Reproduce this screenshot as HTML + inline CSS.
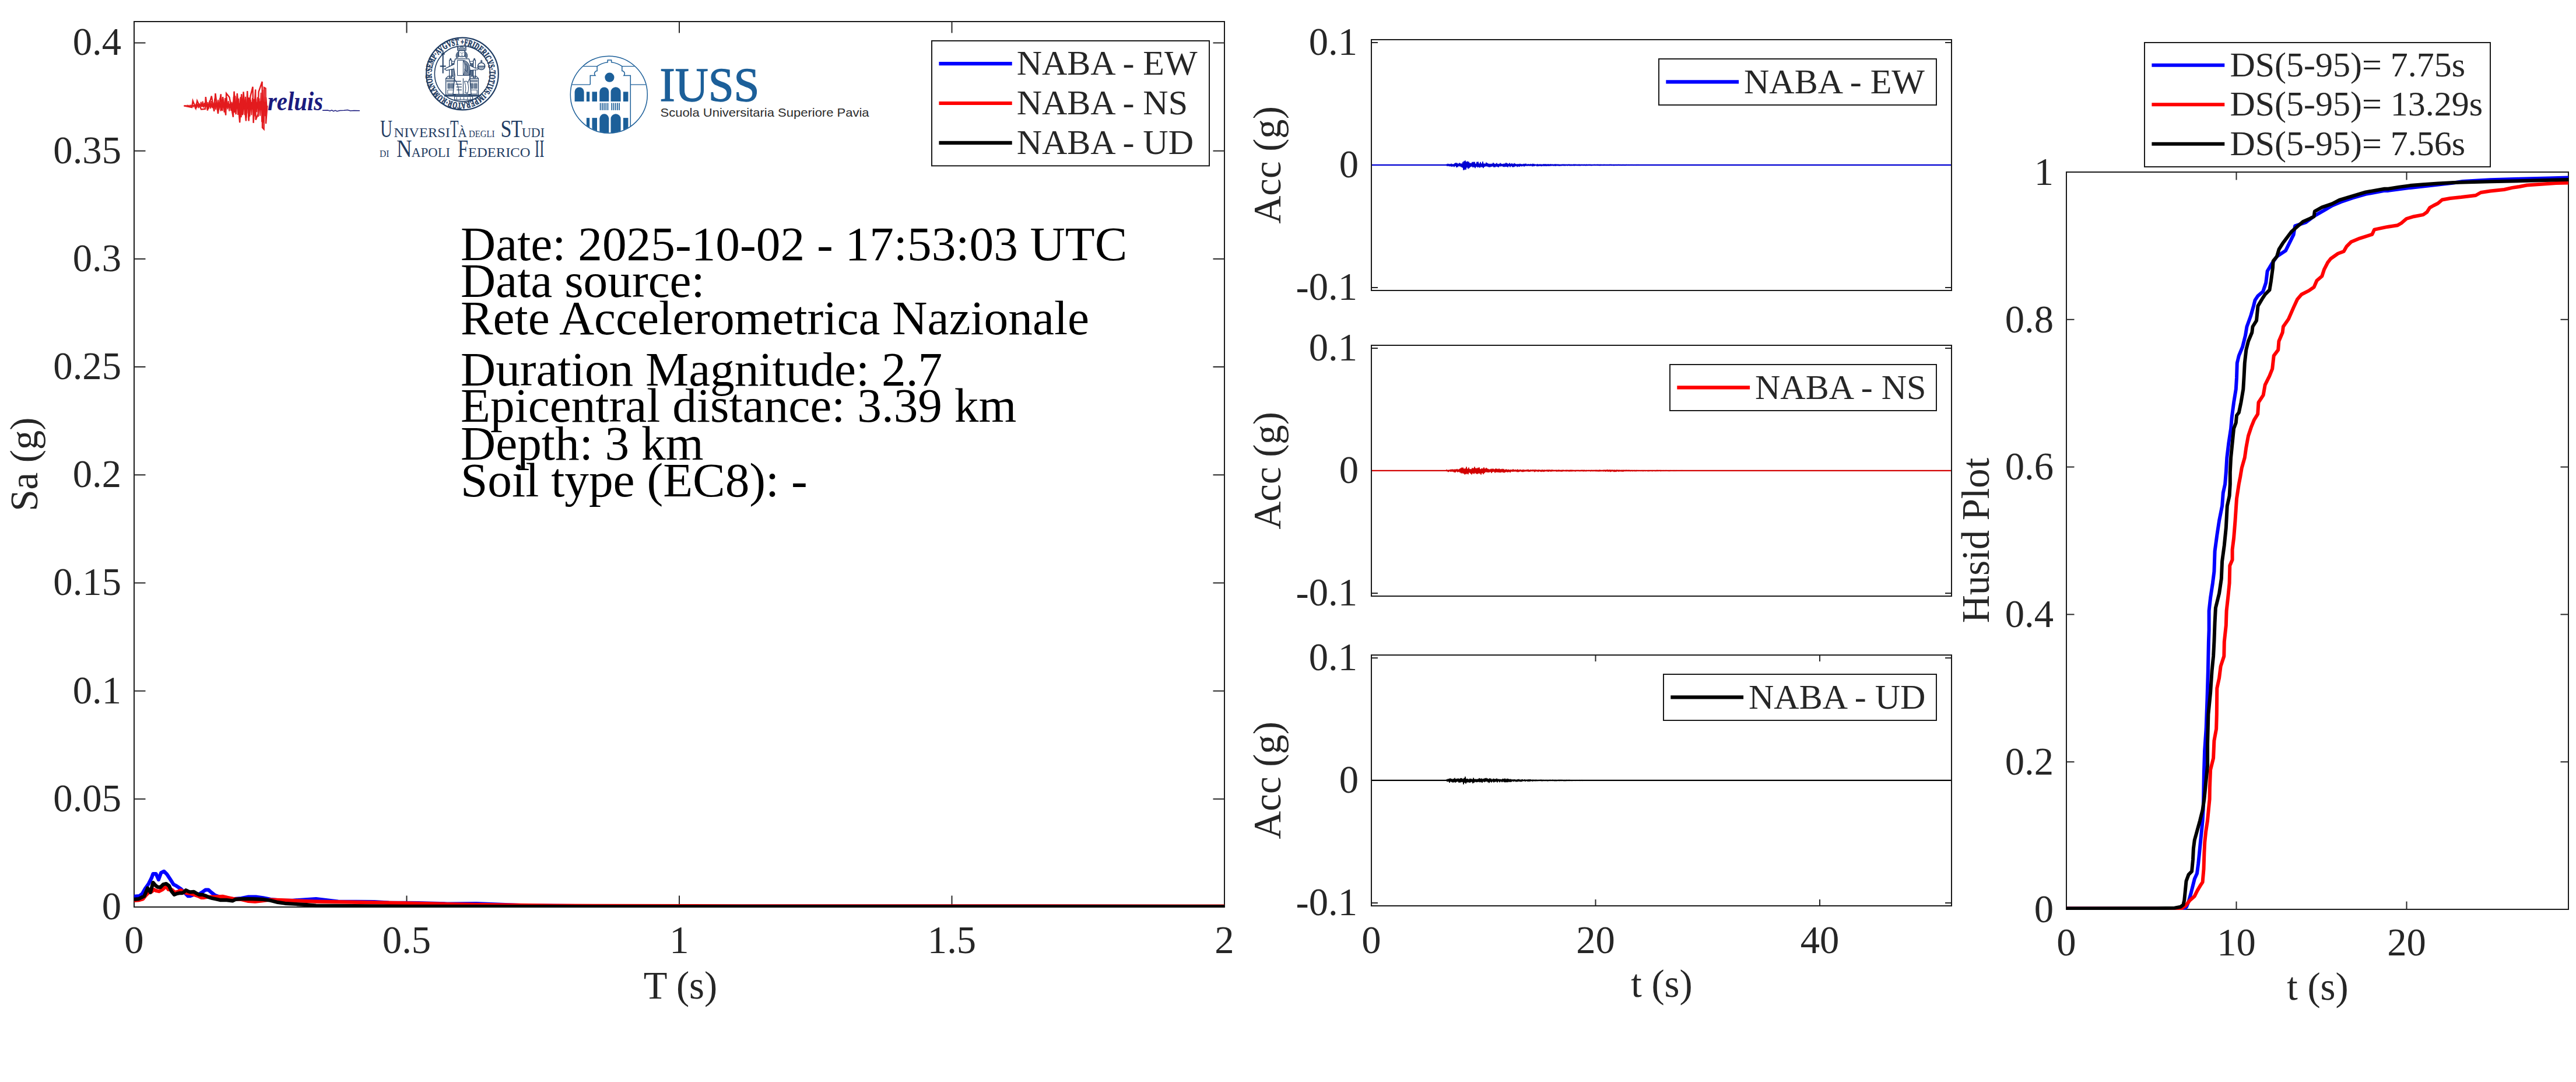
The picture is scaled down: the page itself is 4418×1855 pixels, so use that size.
<!DOCTYPE html>
<html lang="en"><head><meta charset="utf-8"><title>NABA station - response spectra, accelerograms, Husid plot</title>
<style>
html,body{margin:0;padding:0;background:#fff}
body{width:4418px;height:1855px;overflow:hidden}
svg{display:block;font-family:"Liberation Serif","Times New Roman",serif}
.sans{font-family:"Liberation Sans",Arial,sans-serif}
</style></head><body>
<svg width="4418" height="1855" viewBox="0 0 4418 1855">
<rect x="0" y="0" width="4418" height="1855" fill="#fff"/>
<rect x="230" y="37" width="1870" height="1518" fill="none" stroke="#1a1a1a" stroke-width="2"/>
<line x1="230" y1="1369.8" x2="249.5" y2="1369.8" stroke="#262626" stroke-width="2" />
<line x1="2080.5" y1="1369.8" x2="2100" y2="1369.8" stroke="#262626" stroke-width="2" />
<line x1="230" y1="1184.6" x2="249.5" y2="1184.6" stroke="#262626" stroke-width="2" />
<line x1="2080.5" y1="1184.6" x2="2100" y2="1184.6" stroke="#262626" stroke-width="2" />
<line x1="230" y1="999.4" x2="249.5" y2="999.4" stroke="#262626" stroke-width="2" />
<line x1="2080.5" y1="999.4" x2="2100" y2="999.4" stroke="#262626" stroke-width="2" />
<line x1="230" y1="814.2" x2="249.5" y2="814.2" stroke="#262626" stroke-width="2" />
<line x1="2080.5" y1="814.2" x2="2100" y2="814.2" stroke="#262626" stroke-width="2" />
<line x1="230" y1="629.0" x2="249.5" y2="629.0" stroke="#262626" stroke-width="2" />
<line x1="2080.5" y1="629.0" x2="2100" y2="629.0" stroke="#262626" stroke-width="2" />
<line x1="230" y1="443.9" x2="249.5" y2="443.9" stroke="#262626" stroke-width="2" />
<line x1="2080.5" y1="443.9" x2="2100" y2="443.9" stroke="#262626" stroke-width="2" />
<line x1="230" y1="258.7" x2="249.5" y2="258.7" stroke="#262626" stroke-width="2" />
<line x1="2080.5" y1="258.7" x2="2100" y2="258.7" stroke="#262626" stroke-width="2" />
<line x1="230" y1="73.5" x2="249.5" y2="73.5" stroke="#262626" stroke-width="2" />
<line x1="2080.5" y1="73.5" x2="2100" y2="73.5" stroke="#262626" stroke-width="2" />
<line x1="697.5" y1="1555" x2="697.5" y2="1535.5" stroke="#262626" stroke-width="2" />
<line x1="697.5" y1="37" x2="697.5" y2="56.5" stroke="#262626" stroke-width="2" />
<line x1="1165.0" y1="1555" x2="1165.0" y2="1535.5" stroke="#262626" stroke-width="2" />
<line x1="1165.0" y1="37" x2="1165.0" y2="56.5" stroke="#262626" stroke-width="2" />
<line x1="1632.5" y1="1555" x2="1632.5" y2="1535.5" stroke="#262626" stroke-width="2" />
<line x1="1632.5" y1="37" x2="1632.5" y2="56.5" stroke="#262626" stroke-width="2" />
<clipPath id="cl"><rect x="230" y="37" width="1870" height="1519"/></clipPath>
<g clip-path="url(#cl)" fill="none" stroke-linejoin="round" stroke-linecap="butt">
<polyline points="230.0,1536.9 238.8,1536.2 243.8,1532.5 248.8,1523.8 255.0,1515.0 260.0,1505.0 262.5,1498.1 267.5,1498.1 271.9,1508.1 276.2,1496.2 281.2,1493.8 286.2,1498.8 291.2,1506.2 297.5,1516.2 302.5,1518.8 310.0,1523.8 317.5,1531.2 322.5,1536.2 326.2,1536.2 332.5,1533.8 340.0,1533.8 346.2,1530.0 352.5,1525.6 357.5,1525.6 362.5,1530.0 368.8,1535.0 376.2,1537.5 388.8,1540.0 401.2,1541.2 413.8,1540.0 426.2,1537.5 438.8,1537.5 451.2,1539.4 463.8,1541.9 482.5,1543.8 501.2,1543.8 520.0,1542.5 542.0,1541.2 580.0,1545.5 642.0,1546.0 667.0,1547.5 717.0,1548.0 767.0,1549.5 817.0,1549.0 867.0,1551.2 900.0,1552.4 1100.0,1553.8 2100.0,1554.0" stroke="#0000ff" stroke-width="6.2"/>
<polyline points="230.0,1543.8 238.8,1543.1 245.0,1541.2 250.0,1535.0 255.0,1530.0 260.0,1528.8 263.8,1525.0 267.5,1526.9 272.5,1528.1 278.8,1525.0 285.0,1519.4 288.8,1525.0 295.0,1525.6 300.0,1530.0 305.0,1528.8 310.0,1526.2 315.0,1528.8 320.0,1531.2 326.2,1531.9 332.5,1533.8 340.0,1536.2 345.0,1538.8 350.0,1538.8 357.5,1537.5 370.0,1537.5 382.5,1536.9 390.0,1538.8 401.2,1541.2 413.8,1541.9 426.2,1545.0 437.5,1545.6 448.8,1544.4 463.8,1542.5 482.5,1543.1 507.5,1544.4 526.2,1545.0 542.0,1545.6 617.0,1546.8 697.0,1548.3 767.0,1550.0 867.0,1551.6 950.0,1552.6 1186.0,1553.2 2100.0,1553.5" stroke="#ff0000" stroke-width="6.2"/>
<polyline points="230.0,1541.9 237.5,1541.2 242.5,1538.8 247.5,1536.2 251.2,1527.5 253.1,1522.5 255.6,1526.2 258.1,1530.0 260.0,1522.5 262.5,1513.1 266.2,1517.5 270.0,1520.6 275.0,1521.2 280.0,1516.2 285.0,1515.0 290.0,1518.8 293.8,1527.5 298.8,1533.8 303.8,1531.9 307.5,1531.2 312.5,1531.2 316.2,1528.8 318.8,1526.2 322.5,1528.1 326.2,1529.4 332.5,1528.8 336.2,1531.2 341.2,1533.8 347.5,1533.8 352.5,1535.6 357.5,1538.1 363.8,1540.0 370.0,1541.2 377.5,1543.1 388.8,1543.1 398.8,1544.4 403.8,1541.9 413.8,1541.2 432.5,1541.2 451.2,1541.9 463.8,1543.8 476.2,1546.9 488.8,1548.8 507.5,1550.0 526.2,1551.2 542.0,1552.5 700.0,1553.8 1000.0,1554.3 2100.0,1554.3" stroke="#000000" stroke-width="6.2"/>
</g>
<text x="208" y="1575.9" font-size="66.67" text-anchor="end" fill="#262626" >0</text>
<text x="208" y="1390.7" font-size="66.67" text-anchor="end" fill="#262626" >0.05</text>
<text x="208" y="1205.5" font-size="66.67" text-anchor="end" fill="#262626" >0.1</text>
<text x="208" y="1020.3" font-size="66.67" text-anchor="end" fill="#262626" >0.15</text>
<text x="208" y="835.1" font-size="66.67" text-anchor="end" fill="#262626" >0.2</text>
<text x="208" y="649.9" font-size="66.67" text-anchor="end" fill="#262626" >0.25</text>
<text x="208" y="464.8" font-size="66.67" text-anchor="end" fill="#262626" >0.3</text>
<text x="208" y="279.6" font-size="66.67" text-anchor="end" fill="#262626" >0.35</text>
<text x="208" y="94.4" font-size="66.67" text-anchor="end" fill="#262626" >0.4</text>
<text x="230.0" y="1634" font-size="66.67" text-anchor="middle" fill="#262626" >0</text>
<text x="697.5" y="1634" font-size="66.67" text-anchor="middle" fill="#262626" >0.5</text>
<text x="1165.0" y="1634" font-size="66.67" text-anchor="middle" fill="#262626" >1</text>
<text x="1632.5" y="1634" font-size="66.67" text-anchor="middle" fill="#262626" >1.5</text>
<text x="2100.0" y="1634" font-size="66.67" text-anchor="middle" fill="#262626" >2</text>
<text x="1167" y="1711.5" font-size="66.67" text-anchor="middle" fill="#262626" >T (s)</text>
<text transform="translate(64,796) rotate(-90)" font-size="66.67" text-anchor="middle" fill="#262626">Sa (g)</text>
<rect x="1598" y="70" width="476" height="214.3" fill="#fff" stroke="#1a1a1a" stroke-width="2"/>
<line x1="1610.4" y1="109.2" x2="1735.7" y2="109.2" stroke="#0000ff" stroke-width="6.2" />
<text x="1743.7" y="128" font-size="60" text-anchor="start" fill="#262626" >NABA - EW</text>
<line x1="1610.4" y1="177" x2="1735.7" y2="177" stroke="#ff0000" stroke-width="6.2" />
<text x="1743.7" y="195.8" font-size="60" text-anchor="start" fill="#262626" >NABA - NS</text>
<line x1="1610.4" y1="244.8" x2="1735.7" y2="244.8" stroke="#000000" stroke-width="6.2" />
<text x="1743.7" y="263.6" font-size="60" text-anchor="start" fill="#262626" >NABA - UD</text>
<text x="790" y="445.8" font-size="83.33" text-anchor="start" fill="#000" >Date: 2025-10-02 - 17:53:03 UTC</text>
<text x="790" y="509.1" font-size="83.33" text-anchor="start" fill="#000" >Data source:</text>
<text x="790" y="572.5" font-size="83.33" text-anchor="start" fill="#000" >Rete Accelerometrica Nazionale</text>
<text x="790" y="660.7" font-size="83.33" text-anchor="start" fill="#000" >Duration Magnitude: 2.7</text>
<text x="790" y="723" font-size="83.33" text-anchor="start" fill="#000" >Epicentral distance: 3.39 km</text>
<text x="790" y="787.5" font-size="83.33" text-anchor="start" fill="#000" >Depth: 3 km</text>
<text x="790" y="851.2" font-size="83.33" text-anchor="start" fill="#000" >Soil type (EC8): -</text>
<g id="logo-reluis">
<polygon points="315.4,181.4 318.0,181.3 320.7,181.1 323.4,181.0 326.0,180.9 328.7,180.8 331.4,180.6 334.1,180.5 336.7,180.4 339.4,180.3 342.1,180.0 344.7,179.5 347.4,179.1 350.1,178.7 352.8,178.3 355.4,178.2 358.1,178.2 360.8,178.3 363.4,178.2 366.1,177.7 368.8,177.1 371.4,177.1 374.1,177.2 376.8,177.3 379.5,177.4 382.1,177.3 384.8,177.2 387.5,177.0 390.1,177.5 392.8,178.3 395.5,177.9 398.2,177.1 400.8,176.3 403.5,176.3 406.2,176.6 408.8,176.8 411.5,176.9 414.2,176.7 416.9,176.5 419.5,176.2 422.2,176.0 424.9,175.7 427.5,175.3 430.2,174.9 432.9,174.5 435.6,174.6 438.2,174.9 440.9,175.2 443.6,174.5 446.2,173.5 448.9,172.5 451.6,173.8 454.2,174.3 456.9,176.9 456.9,185.9 454.2,189.0 451.6,190.2 448.9,189.5 446.2,188.3 443.6,187.1 440.9,186.4 438.2,186.9 435.6,187.5 432.9,187.8 430.2,187.7 427.5,187.5 424.9,187.3 422.2,187.0 419.5,186.6 416.9,186.4 414.2,186.9 411.5,187.4 408.8,187.1 406.2,186.5 403.5,186.0 400.8,185.4 398.2,185.0 395.5,184.6 392.8,184.4 390.1,184.7 387.5,184.9 384.8,184.8 382.1,184.6 379.5,184.5 376.8,184.4 374.1,184.3 371.4,184.1 368.8,184.0 366.1,183.8 363.4,183.6 360.8,183.4 358.1,183.2 355.4,183.0 352.8,182.9 350.1,182.8 347.4,182.7 344.7,182.6 342.1,182.6 339.4,182.5 336.7,182.4 334.1,182.3 331.4,182.2 328.7,182.0 326.0,181.9 323.4,181.8 320.7,181.7 318.0,181.5 315.4,181.4" fill="#e31b1e"/>
<polyline points="315.4,181.4 316.8,181.5 318.3,181.0 319.8,181.8 321.2,180.6 322.7,182.2 324.2,180.7 325.6,182.7 327.1,180.5 328.6,183.0 330.0,180.2 331.5,182.8 333.0,179.4 334.5,184.3 335.9,179.7 337.4,183.5 338.9,178.3 340.3,185.4 341.8,177.5 343.3,184.3 344.7,174.7 346.2,183.6 347.7,173.6 349.1,184.4 350.6,176.1 352.1,184.0 353.6,174.2 355.0,186.6 356.5,175.2 358.0,186.5 359.4,172.3 360.9,186.2 362.4,173.0 363.8,185.3 365.3,175.3 366.8,186.4 368.2,169.0 369.7,188.0 371.2,171.7 372.6,189.2 374.1,170.9 375.6,187.9 377.1,168.4 378.5,190.7 380.0,173.0 381.5,190.3 382.9,170.3 384.4,192.7 385.9,168.1 387.3,189.0 388.8,166.2 390.3,187.4 391.7,173.0 393.2,190.7 394.7,175.1 396.2,190.0 397.6,174.5 399.1,192.5 400.6,165.6 402.0,193.1 403.5,164.2 405.0,192.3 406.4,166.9 407.9,196.9 409.4,168.8 410.8,197.0 412.3,166.4 413.8,201.1 415.3,169.1 416.7,196.2 418.2,172.7 419.7,197.1 421.1,165.9 422.6,201.8 424.1,163.2 425.5,194.4 427.0,167.1 428.5,199.6 429.9,170.8 431.4,197.4 432.9,168.0 434.3,192.9 435.8,169.8 437.3,199.5 438.8,169.4 440.2,192.1 441.7,166.5 443.2,200.1 444.6,168.6 446.1,198.6 447.6,158.7 449.0,209.1 450.5,153.9 452.0,210.4 453.4,165.7 454.9,199.3 456.4,166.7 457.9,186.0 458.3,181.4" fill="none" stroke="#e31b1e" stroke-width="1.8" stroke-linejoin="miter"/>
<polyline points="315.4,181.4 329.1,184.1 330.7,172.8 335.8,185.4 338.1,172.8 345.1,187.4 351.8,186.8 352.8,166.1 355.8,189.4 362.8,164.7 367.2,190.8 369.4,160.1 373.9,194.8 378.8,161.4 379.9,189.4 382.1,166.1 387.2,197.5 388.1,160.1 393.5,166.7 399.9,200.8 401.5,156.7 404.6,196.1 406.8,160.1 411.2,210.1 414.2,161.4 415.9,197.5 417.5,157.4 421.9,207.5 424.2,156.1 426.6,207.5 429.5,164.7 433.5,148.7 434.6,210.8 438.2,153.4 438.6,205.5 442.6,195.5 443.6,157.4 449.6,140.0 450.0,218.8 452.6,221.5 452.9,150.0 455.6,151.4 456.0,212.1 458.3,181.4" fill="none" stroke="#e31b1e" stroke-width="2.4" stroke-linejoin="miter"/>
<text x="459" y="188.8" font-size="46" font-weight="bold" font-style="italic" fill="#1b1b7e" textLength="95" lengthAdjust="spacingAndGlyphs">reluis</text>
<path d="M553,189.3 L562,189 L566,190.2 L569,188.8 L572,190.6 L575,189.4 L578,190.8 L583,189.6 L590,189.2 L596,188.6 L601,190 L607,189.6 L617,189.8" fill="none" stroke="#1b1b7e" stroke-width="1.5"/>
</g>
<g id="logo-unina">
<circle cx="793" cy="126.5" r="61.8" fill="none" stroke="#1f3c63" stroke-width="2.2"/>
<circle cx="793" cy="126.5" r="47.6" fill="none" stroke="#1f3c63" stroke-width="1.6"/>
<path id="ringp" d="M789.8,76.9 A49.6,49.6 0 1 1 789.7,76.9" fill="none"/>
<text font-size="15.6" font-weight="bold" fill="#1f3c63" stroke="#1f3c63" stroke-width="0.7"><textPath href="#ringp" textLength="308.6" lengthAdjust="spacingAndGlyphs">+FRIDERICVS·TOTIVS·IMPERATOR·ROMANOR·SEMP·AVGVST</textPath></text>
<path d="M770.8,102.8 L774.6,102.8 L774.6,133.1 L770.8,133.1 Z" fill="none" fill-opacity="1" stroke="#1f3c63" stroke-width="1.2" stroke-linejoin="round"/>
<path d="M811.7,102.8 L815.5,102.8 L815.5,133.1 L811.7,133.1 Z" fill="none" fill-opacity="1" stroke="#1f3c63" stroke-width="1.2" stroke-linejoin="round"/>
<path d="M774.6,105.2 L811.7,105.2 L811.7,108.9 L774.6,108.9 Z" fill="none" fill-opacity="1" stroke="#1f3c63" stroke-width="1.0" stroke-linejoin="round"/>
<path d="M775.2,109.6 L779.5,109.6 L779.5,129.4 L775.2,129.4 Z" fill="#1f3c63" fill-opacity="0.55" stroke="#1f3c63" stroke-width="0.6" stroke-linejoin="round"/>
<path d="M806.2,109.6 L811.1,109.6 L811.1,129.4 L806.2,129.4 Z" fill="#1f3c63" fill-opacity="0.75" stroke="#1f3c63" stroke-width="0.6" stroke-linejoin="round"/>
<path d="M772.7,102.8 L772.7,99.7 M813.6,102.8 L813.6,99.7" fill="none" fill-opacity="1" stroke="#1f3c63" stroke-width="2.2" stroke-linejoin="round"/>
<path d="M764.7,134.3 L780.8,134.3 L780.8,162.9 L764.7,162.9 Z" fill="none" fill-opacity="1" stroke="#1f3c63" stroke-width="1.3" stroke-linejoin="round"/>
<path d="M804.3,134.3 L820.4,134.3 L820.4,162.9 L804.3,162.9 Z" fill="none" fill-opacity="1" stroke="#1f3c63" stroke-width="1.3" stroke-linejoin="round"/>
<path d="M766.5,136.8 L778.9,136.8 L778.9,140.5 L766.5,140.5 Z" fill="#1f3c63" fill-opacity="0.5" stroke="#1f3c63" stroke-width="0.5" stroke-linejoin="round"/>
<path d="M806.2,136.8 L818.6,136.8 L818.6,140.5 L806.2,140.5 Z" fill="#1f3c63" fill-opacity="0.5" stroke="#1f3c63" stroke-width="0.5" stroke-linejoin="round"/>
<path d="M767.8,143.0 L772.7,143.0 L772.7,151.7 L767.8,151.7 Z" fill="#1f3c63" fill-opacity="0.65" stroke="#1f3c63" stroke-width="0.5" stroke-linejoin="round"/>
<path d="M773.9,143.0 L778.3,143.0 L778.3,151.7 L773.9,151.7 Z" fill="#1f3c63" fill-opacity="0.65" stroke="#1f3c63" stroke-width="0.5" stroke-linejoin="round"/>
<path d="M806.8,143.0 L811.7,143.0 L811.7,151.7 L806.8,151.7 Z" fill="#1f3c63" fill-opacity="0.65" stroke="#1f3c63" stroke-width="0.5" stroke-linejoin="round"/>
<path d="M813.2,143.0 L818.2,143.0 L818.2,151.7 L813.2,151.7 Z" fill="#1f3c63" fill-opacity="0.65" stroke="#1f3c63" stroke-width="0.5" stroke-linejoin="round"/>
<path d="M767.8,154.2 L778.3,154.2 L778.3,161.0 L767.8,161.0 Z" fill="none" fill-opacity="1" stroke="#1f3c63" stroke-width="0.9" stroke-linejoin="round"/>
<path d="M806.8,154.2 L818.2,154.2 L818.2,161.0 L806.8,161.0 Z" fill="none" fill-opacity="1" stroke="#1f3c63" stroke-width="0.9" stroke-linejoin="round"/>
<path d="M764.7,134.3 L768.4,130.6 L777.0,130.6 L780.8,134.3 M804.3,134.3 L808.0,130.6 L816.7,130.6 L820.4,134.3" fill="none" fill-opacity="1" stroke="#1f3c63" stroke-width="1.1" stroke-linejoin="round"/>
<path d="M762.2,162.9 L822.9,162.9 L822.9,165.3 L762.2,165.3 Z" fill="#1f3c63" fill-opacity="0.8" stroke="#1f3c63" stroke-width="0.6" stroke-linejoin="round"/>
<path d="M780.8,100.9 L804.3,100.9 L807.4,112.0 L805.5,129.4 L808.0,161.6 L777.0,161.6 L780.1,129.4 L777.7,112.0 Z" fill="#fff" fill-opacity="1" stroke="#1f3c63" stroke-width="1.3" stroke-linejoin="round"/>
<path d="M784.5,103.4 L794.4,103.4 L794.4,129.4 L784.5,129.4 Z" fill="none" fill-opacity="1" stroke="#1f3c63" stroke-width="1.0" stroke-linejoin="round"/>
<path d="M795.0,103.4 C805.5,104.6 808.0,118.2 804.3,129.4 L795.0,129.4 C798.1,119.5 798.1,112.0 795.0,103.4 Z" fill="#1f3c63" fill-opacity="0.6" stroke="#1f3c63" stroke-width="0.9" stroke-linejoin="round"/>
<path d="M798.1,109.6 C801.8,110.8 803.1,115.8 801.2,122.0 M796.3,118.2 L802.4,124.4" fill="none" fill-opacity="1" stroke="#1f3c63" stroke-width="1.0" stroke-linejoin="round"/>
<path d="M778.3,134.3 C783.2,139.3 787.0,146.7 787.0,161.6 M794.4,134.3 L794.4,161.6 M805.5,134.3 C801.8,141.8 799.3,151.7 801.2,161.6" fill="none" fill-opacity="1" stroke="#1f3c63" stroke-width="1.1" stroke-linejoin="round"/>
<path d="M780.1,139.3 L790.7,139.3 M781.4,144.3 L791.9,144.3 M782.6,149.2 L791.9,149.2 M783.2,154.2 L791.9,154.2" fill="none" fill-opacity="1" stroke="#1f3c63" stroke-width="1.3" stroke-linejoin="round"/>
<path d="M796.3,139.3 C799.3,146.7 799.3,154.2 797.5,159.1 L802.4,159.1 C804.3,151.7 803.7,145.5 801.2,139.3 Z" fill="#fff" fill-opacity="1" stroke="#1f3c63" stroke-width="1.0" stroke-linejoin="round"/>
<path d="M779.5,165.3 L810.5,165.3 L810.5,170.9 L779.5,170.9 Z" fill="none" fill-opacity="1" stroke="#1f3c63" stroke-width="1.0" stroke-linejoin="round"/>
<path d="M783.2,170.9 L783.2,166.6 M789.4,170.9 L789.4,166.6 M795.6,170.9 L795.6,166.6 M801.8,170.9 L801.8,166.6 M806.8,170.9 L806.8,166.6" fill="none" fill-opacity="1" stroke="#1f3c63" stroke-width="0.9" stroke-linejoin="round"/>
<path d="M787.0,86.6 L796.9,86.6 L797.5,94.7 C795.6,98.4 788.2,98.4 786.3,94.7 Z" fill="#fff" fill-opacity="1" stroke="#1f3c63" stroke-width="1.2" stroke-linejoin="round"/>
<path d="M786.6,87.9 C781.4,91.0 781.4,97.2 783.2,99.7 L787.0,97.2 Z M797.2,87.9 C802.4,91.0 802.4,97.2 800.6,99.7 L796.9,97.2 Z" fill="#1f3c63" fill-opacity="0.7" stroke="#1f3c63" stroke-width="0.8" stroke-linejoin="round"/>
<path d="M784.5,86.6 L784.5,79.8 L787.6,82.9 L791.9,78.6 L796.3,82.9 L799.3,79.8 L799.3,86.6 Z" fill="#1f3c63" fill-opacity="0.55" stroke="#1f3c63" stroke-width="0.9" stroke-linejoin="round"/>
<path d="M789.4,90.4 L791.3,90.4 M793.2,90.4 L795.0,90.4 M792.2,91.0 L792.2,93.7 M790.4,95.7 L793.9,95.7" fill="none" fill-opacity="1" stroke="#1f3c63" stroke-width="0.9" stroke-linejoin="round"/>
<path d="M779.5,109.6 L765.9,116.4 L762.2,118.2 L765.9,120.7 L778.3,118.2" fill="#fff" fill-opacity="1" stroke="#1f3c63" stroke-width="1.2" stroke-linejoin="round"/>
<path d="M759.7,89.1 L759.7,125.7" fill="none" fill-opacity="1" stroke="#1f3c63" stroke-width="2.0" stroke-linejoin="round"/>
<path d="M754.7,113.5 L764.7,113.5 M756.6,92.5 L762.8,92.5 M759.7,89.1 L759.7,86.6" fill="none" fill-opacity="1" stroke="#1f3c63" stroke-width="1.8" stroke-linejoin="round"/>
<path d="M805.5,112.0 L815.5,117.0 L820.4,116.4 L819.8,119.5 L806.8,120.7" fill="#fff" fill-opacity="1" stroke="#1f3c63" stroke-width="1.2" stroke-linejoin="round"/>
<circle cx="825.6" cy="113.5" r="6.1" fill="#fff" stroke="#1f3c63" stroke-width="1.5"/>
<path d="M819.8,113.5 L831.6,113.5 M825.6,107.7 L825.6,102.8 M823.5,104.9 L827.7,104.9" fill="none" fill-opacity="1" stroke="#1f3c63" stroke-width="1.3" stroke-linejoin="round"/>
<path d="M820.4,114.5 C822.9,118.2 828.5,118.2 830.9,114.5" fill="#1f3c63" fill-opacity="0.45" stroke="#1f3c63" stroke-width="0.6" stroke-linejoin="round"/>
<text y="234.5" fill="#1f3c63"><tspan x="652" font-size="43" textLength="21" lengthAdjust="spacingAndGlyphs">U</tspan><tspan x="675.5" font-size="23.5" textLength="96.5" lengthAdjust="spacingAndGlyphs">NIVERSI</tspan><tspan x="772" font-size="43" textLength="14.5" lengthAdjust="spacingAndGlyphs">T</tspan><tspan x="785.2" font-size="23.5" textLength="15.5" lengthAdjust="spacingAndGlyphs">À</tspan><tspan font-size="4"> </tspan><tspan x="804" font-size="17.5" textLength="44.5" lengthAdjust="spacingAndGlyphs">DEGLI</tspan><tspan font-size="4"> </tspan><tspan x="858.5" font-size="43" textLength="19" lengthAdjust="spacingAndGlyphs">S</tspan><tspan x="876.5" font-size="43" textLength="19.5" lengthAdjust="spacingAndGlyphs">T</tspan><tspan x="895" font-size="23.5" textLength="39" lengthAdjust="spacingAndGlyphs">UDI</tspan></text>
<text y="268.5" fill="#1f3c63"><tspan x="651" font-size="17.5" textLength="16.5" lengthAdjust="spacingAndGlyphs">DI</tspan><tspan font-size="4"> </tspan><tspan x="680" font-size="43" textLength="26.5" lengthAdjust="spacingAndGlyphs">N</tspan><tspan x="705.5" font-size="23.5" textLength="66.5" lengthAdjust="spacingAndGlyphs">APOLI</tspan><tspan font-size="4"> </tspan><tspan x="785" font-size="43" textLength="18" lengthAdjust="spacingAndGlyphs">F</tspan><tspan x="803" font-size="23.5" textLength="106.5" lengthAdjust="spacingAndGlyphs">EDERICO</tspan><tspan font-size="4"> </tspan><tspan x="917" font-size="43" textLength="16.5" lengthAdjust="spacingAndGlyphs">II</tspan></text>
</g>
<g id="logo-iuss">
<clipPath id="ciu"><circle cx="1044.3" cy="162.2" r="65.5"/></clipPath>
<circle cx="1044.3" cy="162.2" r="66.0" fill="#fff" stroke="#1c5f99" stroke-width="1.5"/>
<g clip-path="url(#ciu)">
<path d="M972.8,145.1 L1012.3,145.1 M1081.7,145.1 L1118.0,145.1 M992.0,113.7 L1024.1,113.7 M1066.8,113.7 L1096.6,113.7" fill="none" stroke="#1c5f99" stroke-width="1.3"/>
<path d="M1012.3,145.1 L1012.3,129.5 L1020.9,129.5 C1017.6,125.9 1020.9,121.6 1024.1,121.6 L1024.1,113.7 C1030.5,108.8 1036.9,107.3 1042.2,106.7 L1042.2,103.1 L1048.6,103.1 L1048.6,106.7 C1053.9,107.3 1060.4,108.8 1066.8,113.7 L1066.8,121.6 C1070.0,121.6 1073.2,125.9 1070.0,129.5 L1081.3,129.5 L1081.3,229.5" fill="none" stroke="#1c5f99" stroke-width="1.5"/>
<circle cx="1045.4" cy="132.7" r="8.1" fill="#1c5f99"/>
<path d="M985.6,173.9 L985.6,157.4 A8.0,8.0 0 0 1 1001.6,157.4 L1001.6,173.9 Z" fill="#1c5f99"/>
<path d="M1028.3,173.9 L1028.3,157.4 A8.0,8.0 0 0 1 1044.3,157.4 L1044.3,173.9 Z" fill="#1c5f99"/>
<path d="M1047.5,173.9 L1047.5,157.9 A8.5,8.5 0 0 1 1064.6,157.9 L1064.6,173.9 Z" fill="#1c5f99"/>
<rect x="1005.9" y="157.3" width="5.3" height="16.7" fill="#1c5f99"/>
<rect x="1015.5" y="157.3" width="8.5" height="16.7" fill="#1c5f99"/>
<rect x="1068.9" y="157.3" width="8.5" height="16.7" fill="#1c5f99"/>
<rect x="1028.8" y="176.5" width="1.7" height="12.4" fill="#1c5f99"/>
<rect x="1032.0" y="176.5" width="1.7" height="12.4" fill="#1c5f99"/>
<rect x="1035.2" y="176.5" width="1.7" height="12.4" fill="#1c5f99"/>
<rect x="1038.4" y="176.5" width="1.7" height="12.4" fill="#1c5f99"/>
<rect x="1041.6" y="176.5" width="1.7" height="12.4" fill="#1c5f99"/>
<rect x="1048.4" y="176.5" width="1.7" height="12.4" fill="#1c5f99"/>
<rect x="1051.6" y="176.5" width="1.7" height="12.4" fill="#1c5f99"/>
<rect x="1054.8" y="176.5" width="1.7" height="12.4" fill="#1c5f99"/>
<rect x="1058.0" y="176.5" width="1.7" height="12.4" fill="#1c5f99"/>
<rect x="1061.2" y="176.5" width="1.7" height="12.4" fill="#1c5f99"/>
<path d="M1028.3,229.5 L1028.3,203.3 A8.0,8.0 0 0 1 1044.3,203.3 L1044.3,229.5 Z" fill="#1c5f99"/>
<path d="M1047.5,229.5 L1047.5,203.8 A8.5,8.5 0 0 1 1064.6,203.8 L1064.6,229.5 Z" fill="#1c5f99"/>
<rect x="1005.9" y="202.1" width="5.3" height="27.3" fill="#1c5f99"/>
<rect x="1015.5" y="202.1" width="8.5" height="27.3" fill="#1c5f99"/>
<rect x="1068.9" y="202.1" width="8.5" height="27.3" fill="#1c5f99"/>
</g>
<text x="1131.5" y="172.9" font-size="81.5" fill="#1c5f99" stroke="#1c5f99" stroke-width="1.3" textLength="171" lengthAdjust="spacingAndGlyphs">IUSS</text>
<text class="sans" x="1132.5" y="199.6" font-size="21" fill="#2b2b2b" textLength="358" lengthAdjust="spacingAndGlyphs">Scuola Universitaria Superiore Pavia</text>
</g>
<line x1="2352" y1="73" x2="2363" y2="73" stroke="#262626" stroke-width="2" />
<line x1="3336" y1="73" x2="3347" y2="73" stroke="#262626" stroke-width="2" />
<line x1="2352" y1="283.0" x2="2363" y2="283.0" stroke="#262626" stroke-width="2" />
<line x1="3336" y1="283.0" x2="3347" y2="283.0" stroke="#262626" stroke-width="2" />
<line x1="2352" y1="493" x2="2363" y2="493" stroke="#262626" stroke-width="2" />
<line x1="3336" y1="493" x2="3347" y2="493" stroke="#262626" stroke-width="2" />
<rect x="2352" y="68" width="995" height="430" fill="none" stroke="#1a1a1a" stroke-width="2"/>
<path d="M2481,283.0L2481.0,282.0L2482.0,284.2L2483.0,281.3L2484.0,284.2L2485.0,281.6L2486.0,284.6L2487.0,281.9L2488.0,284.6L2489.0,281.1L2490.0,285.3L2491.0,281.9L2492.0,284.6L2493.0,281.8L2494.0,285.7L2495.0,280.4L2496.0,284.3L2497.0,279.5L2498.0,286.5L2499.0,280.1L2500.0,285.9L2501.0,281.2L2502.0,284.5L2503.0,279.8L2504.0,284.9L2505.0,280.6L2506.0,285.8L2507.0,280.9L2508.0,286.9L2509.0,278.2L2510.0,291.1L2511.0,276.5L2512.0,290.7L2513.0,275.9L2514.0,290.3L2515.0,277.7L2516.0,286.8L2517.0,277.0L2518.0,288.9L2519.0,277.8L2520.0,287.7L2521.0,279.8L2522.0,285.8L2523.0,280.0L2524.0,285.2L2525.0,278.4L2526.0,286.3L2527.0,278.2L2528.0,286.1L2529.0,278.0L2530.0,287.6L2531.0,281.2L2532.0,285.5L2533.0,278.2L2534.0,286.4L2535.0,277.9L2536.0,286.2L2537.0,280.9L2538.0,287.0L2539.0,278.4L2540.0,285.8L2541.0,280.8L2542.0,286.1L2543.0,277.6L2544.0,287.5L2545.0,280.8L2546.0,285.5L2547.0,281.0L2548.0,284.8L2549.0,279.2L2550.0,284.9L2551.0,280.1L2552.0,285.5L2553.0,281.1L2554.0,286.2L2555.0,281.3L2556.0,285.9L2557.0,281.4L2558.0,285.3L2559.0,281.2L2560.0,284.9L2561.0,279.5L2562.0,286.1L2563.0,281.1L2564.0,286.2L2565.0,281.3L2566.0,285.1L2567.0,280.0L2568.0,285.5L2569.0,281.6L2570.0,286.2L2571.0,281.4L2572.0,284.7L2573.0,280.2L2574.0,284.9L2575.0,281.2L2576.0,284.4L2577.0,281.6L2578.0,285.5L2579.0,281.2L2580.0,285.6L2581.0,280.9L2582.0,285.3L2583.0,279.6L2584.0,285.3L2585.0,280.5L2586.0,286.1L2587.0,281.4L2588.0,284.5L2589.0,280.0L2590.0,285.8L2591.0,281.4L2592.0,284.5L2593.0,280.5L2594.0,285.9L2595.0,281.6L2596.0,285.8L2597.0,280.4L2598.0,285.1L2599.0,281.3L2600.0,284.1L2601.0,282.0L2602.0,285.6L2603.0,281.7L2604.0,285.0L2605.0,281.7L2606.0,285.2L2607.0,281.2L2608.0,284.3L2609.0,281.9L2610.0,284.8L2611.0,282.1L2612.0,284.1L2613.0,281.5L2614.0,284.9L2615.0,281.4L2616.0,284.1L2617.0,281.1L2618.0,284.0L2619.0,282.3L2620.0,284.0L2621.0,281.7L2622.0,283.8L2623.0,282.1L2624.0,284.1L2625.0,281.6L2626.0,283.8L2627.0,281.9L2628.0,284.7L2629.0,281.2L2630.0,284.4L2631.0,281.6L2632.0,284.2L2633.0,282.3L2634.0,283.6L2635.0,282.4L2636.0,284.5L2637.0,281.7L2638.0,284.5L2639.0,282.4L2640.0,284.2L2641.0,282.0L2642.0,284.2L2643.0,282.2L2644.0,284.5L2645.0,282.4L2646.0,284.0L2647.0,281.8L2648.0,284.3L2649.0,281.8L2650.0,284.1L2651.0,281.8L2652.0,284.3L2653.0,282.2L2654.0,284.1L2655.0,281.8L2656.0,284.2L2657.0,282.2L2658.0,284.1L2659.0,281.8L2660.0,283.9L2661.0,282.1L2662.0,283.7L2663.0,282.1L2664.0,283.9L2665.0,282.5L2666.0,283.9L2667.0,281.8L2668.0,284.1L2669.0,282.1L2670.0,283.7L2671.0,282.1L2672.0,283.8L2673.0,282.3L2674.0,284.0L2675.0,282.6L2676.0,283.9L2677.0,282.6L2678.0,283.8L2679.0,282.3L2680.0,283.5L2681.0,282.2L2682.0,283.7L2683.0,282.3L2684.0,283.9L2685.0,282.5L2686.0,283.3L2687.0,282.5L2688.0,283.8L2689.0,282.5L2690.0,283.4L2691.0,282.1L2692.0,283.7L2693.0,282.4L2694.0,283.8L2695.0,282.5L2696.0,283.7L2697.0,282.6L2698.0,283.6L2699.0,282.2L2700.0,283.8L2701.0,282.2L2702.0,283.5L2703.0,282.4L2704.0,283.5L2705.0,282.6L2706.0,283.6L2707.0,282.3L2708.0,283.7L2709.0,282.3L2710.0,283.8L2711.0,282.6L2712.0,283.4L2713.0,282.5L2714.0,283.4L2715.0,282.6L2716.0,283.5L2717.0,282.4L2718.0,283.5L2719.0,282.6L2720.0,283.7L2721.0,282.3L2722.0,283.5L2723.0,282.7L2724.0,283.3L2725.0,282.4L2726.0,283.3L2727.0,282.4L2728.0,283.5L2729.0,282.6L2730.0,283.6L2731.0,282.8L2732.0,283.3L2733.0,282.6L2734.0,283.2L2735.0,282.4L2736.0,283.3L2737.0,282.7L2738.0,283.2L2739.0,282.5L2740.0,283.4L2741.0,282.5L2742.0,283.5L2743.0,282.5L2744.0,283.6L2745.0,282.5L2746.0,283.3L2747.0,282.6L2748.0,283.3L2749.0,282.8L2750.0,283.4L2751.0,282.5L2752.0,283.3L2753.0,282.7L2754.0,283.3L2755.0,282.6L2756.0,283.4L2757.0,282.6L2758.0,283.4L2759.0,282.7L2760.0,283.4L2761.0,282.5L2762.0,283.2L2763.0,282.5L2764.0,283.4L2765.0,282.8L2766.0,283.3L2767.0,282.6L2768.0,283.5L2769.0,282.7L2770.0,283.3L2771.0,282.6L2772.0,283.4L2773.0,282.6L2774.0,283.3L2775.0,282.6L2776.0,283.2L2777.0,282.6L2778.0,283.4L2779.0,282.7L2780.0,283.4L2781.0,282.8L2782.0,283.4L2783.0,282.6L2784.0,283.4L2785.0,282.7L2786.0,283.4L2787.0,282.8L2788.0,283.4L2789.0,282.6L2790.0,283.2L2791.0,282.8L2792.0,283.2L2793.0,282.7L2794.0,283.3L2795.0,282.8L2796.0,283.1L2797.0,282.7L2798.0,283.1L2799.0,282.7L2800.0,283.2L2801.0,282.8L2802.0,283.3L2803.0,282.9L2804.0,283.1L2805.0,282.8L2806.0,283.3L2807.0,282.7L2808.0,283.2L2809.0,282.7L2810.0,283.2L2811.0,282.7L2812.0,283.1L2813.0,282.9L2814.0,283.2L2815.0,282.9L2816.0,283.2L2817.0,282.8L2818.0,283.2L2819.0,282.8L2820.0,283.2L2821.0,282.9L2822.0,283.1L2823.0,282.8L2824.0,283.2L2825.0,282.9L2826.0,283.2L2827.0,282.8L2828.0,283.1L2829.0,282.9L2830.0,283.1L2831.0,282.9L2832.0,283.1L2833.0,282.9L2834.0,283.1L2835.0,282.8L2836.0,283.1L2837.0,282.9L2838.0,283.1L2839.0,282.9L2840.0,283.1L2841.0,282.9L2842.0,283.0L2843.0,282.9L2844.0,283.1L2845.0,282.9L2846.0,283.1L2847.0,283.0L2848.0,283.1L2849.0,283.0L2850.0,283.0L2851.0,282.9L2852.0,283.1L2853.0,283.0L2854.0,283.0L2855.0,283.0L2856.0,283.0L2857.0,283.0L2858.0,283.0L2859.0,283.0L2860.0,283.0L2861,283.0" fill="none" stroke="#0000d2" stroke-width="1.7" stroke-linejoin="round"/>
<line x1="2353" y1="282.9" x2="3346" y2="282.9" stroke="#0000d2" stroke-width="2.3" />
<text x="2328" y="93.9" font-size="66.67" text-anchor="end" fill="#262626" >0.1</text>
<text x="2330" y="303.9" font-size="66.67" text-anchor="end" fill="#262626" >0</text>
<text x="2328" y="513.9" font-size="66.67" text-anchor="end" fill="#262626" >-0.1</text>
<text transform="translate(2196,283.0) rotate(-90)" font-size="66.67" text-anchor="middle" fill="#262626">Acc (g)</text>
<rect x="2845" y="101" width="476" height="79" fill="#fff" stroke="#1a1a1a" stroke-width="2"/>
<line x1="2857.3" y1="140.4" x2="2982.1000000000004" y2="140.4" stroke="#0000ff" stroke-width="6.2" />
<text x="2991" y="160" font-size="60" text-anchor="start" fill="#262626" >NABA - EW</text>
<line x1="2352" y1="597" x2="2363" y2="597" stroke="#262626" stroke-width="2" />
<line x1="3336" y1="597" x2="3347" y2="597" stroke="#262626" stroke-width="2" />
<line x1="2352" y1="807.0" x2="2363" y2="807.0" stroke="#262626" stroke-width="2" />
<line x1="3336" y1="807.0" x2="3347" y2="807.0" stroke="#262626" stroke-width="2" />
<line x1="2352" y1="1017" x2="2363" y2="1017" stroke="#262626" stroke-width="2" />
<line x1="3336" y1="1017" x2="3347" y2="1017" stroke="#262626" stroke-width="2" />
<rect x="2352" y="592" width="995" height="430" fill="none" stroke="#1a1a1a" stroke-width="2"/>
<path d="M2481,807.0L2481.0,805.5L2482.0,807.7L2483.0,806.4L2484.0,808.6L2485.0,806.2L2486.0,807.7L2487.0,805.6L2488.0,808.1L2489.0,805.2L2490.0,808.0L2491.0,805.1L2492.0,808.2L2493.0,805.4L2494.0,809.2L2495.0,805.1L2496.0,809.3L2497.0,805.0L2498.0,808.0L2499.0,804.5L2500.0,809.0L2501.0,805.4L2502.0,808.4L2503.0,804.3L2504.0,809.6L2505.0,803.2L2506.0,810.8L2507.0,802.1L2508.0,810.9L2509.0,802.2L2510.0,811.5L2511.0,803.8L2512.0,813.0L2513.0,803.5L2514.0,812.5L2515.0,800.8L2516.0,812.0L2517.0,804.1L2518.0,812.7L2519.0,802.0L2520.0,810.0L2521.0,804.6L2522.0,811.3L2523.0,804.7L2524.0,812.8L2525.0,802.9L2526.0,811.1L2527.0,803.2L2528.0,811.9L2529.0,800.9L2530.0,810.6L2531.0,803.0L2532.0,812.0L2533.0,803.2L2534.0,812.1L2535.0,802.3L2536.0,811.2L2537.0,801.9L2538.0,811.4L2539.0,804.5L2540.0,813.1L2541.0,803.5L2542.0,810.7L2543.0,803.5L2544.0,812.3L2545.0,801.8L2546.0,810.6L2547.0,803.9L2548.0,809.0L2549.0,802.5L2550.0,809.1L2551.0,803.8L2552.0,809.5L2553.0,804.6L2554.0,809.4L2555.0,805.1L2556.0,808.5L2557.0,804.3L2558.0,810.3L2559.0,804.1L2560.0,808.7L2561.0,804.2L2562.0,808.3L2563.0,804.9L2564.0,810.0L2565.0,803.8L2566.0,809.2L2567.0,804.0L2568.0,809.2L2569.0,804.7L2570.0,809.4L2571.0,803.8L2572.0,809.7L2573.0,804.9L2574.0,809.6L2575.0,804.6L2576.0,808.8L2577.0,804.3L2578.0,809.7L2579.0,804.7L2580.0,809.9L2581.0,805.9L2582.0,809.0L2583.0,804.8L2584.0,808.6L2585.0,805.7L2586.0,809.2L2587.0,805.3L2588.0,808.4L2589.0,806.0L2590.0,809.5L2591.0,805.6L2592.0,808.0L2593.0,805.8L2594.0,808.2L2595.0,804.9L2596.0,808.1L2597.0,805.8L2598.0,807.9L2599.0,805.6L2600.0,808.0L2601.0,805.9L2602.0,808.6L2603.0,805.1L2604.0,808.8L2605.0,806.3L2606.0,808.2L2607.0,805.3L2608.0,807.7L2609.0,806.1L2610.0,808.3L2611.0,805.9L2612.0,808.6L2613.0,805.5L2614.0,808.2L2615.0,806.1L2616.0,807.9L2617.0,806.1L2618.0,807.7L2619.0,805.6L2620.0,807.8L2621.0,805.4L2622.0,808.3L2623.0,806.3L2624.0,808.2L2625.0,805.7L2626.0,807.6L2627.0,805.9L2628.0,807.6L2629.0,805.6L2630.0,807.6L2631.0,805.8L2632.0,808.6L2633.0,805.6L2634.0,807.8L2635.0,805.9L2636.0,807.7L2637.0,806.1L2638.0,808.4L2639.0,805.7L2640.0,807.5L2641.0,806.1L2642.0,808.1L2643.0,806.3L2644.0,808.3L2645.0,805.7L2646.0,808.0L2647.0,806.2L2648.0,808.3L2649.0,806.0L2650.0,807.7L2651.0,806.3L2652.0,807.6L2653.0,805.8L2654.0,807.9L2655.0,805.9L2656.0,808.2L2657.0,805.7L2658.0,807.6L2659.0,806.2L2660.0,808.2L2661.0,805.9L2662.0,807.7L2663.0,806.0L2664.0,807.6L2665.0,806.5L2666.0,807.5L2667.0,806.3L2668.0,807.6L2669.0,806.2L2670.0,808.1L2671.0,806.5L2672.0,807.8L2673.0,806.0L2674.0,807.8L2675.0,806.3L2676.0,807.9L2677.0,806.6L2678.0,808.0L2679.0,806.2L2680.0,807.9L2681.0,806.1L2682.0,807.4L2683.0,806.6L2684.0,807.5L2685.0,806.3L2686.0,807.9L2687.0,806.1L2688.0,807.6L2689.0,806.3L2690.0,807.8L2691.0,806.5L2692.0,807.9L2693.0,806.1L2694.0,807.8L2695.0,806.1L2696.0,807.8L2697.0,806.3L2698.0,807.5L2699.0,806.5L2700.0,807.5L2701.0,806.6L2702.0,807.9L2703.0,806.5L2704.0,807.3L2705.0,806.5L2706.0,807.4L2707.0,806.4L2708.0,807.5L2709.0,806.6L2710.0,807.6L2711.0,806.5L2712.0,807.5L2713.0,806.2L2714.0,807.5L2715.0,806.4L2716.0,807.8L2717.0,806.2L2718.0,807.5L2719.0,806.7L2720.0,807.8L2721.0,806.4L2722.0,807.4L2723.0,806.6L2724.0,807.4L2725.0,806.5L2726.0,807.4L2727.0,806.7L2728.0,807.8L2729.0,806.3L2730.0,807.3L2731.0,806.5L2732.0,807.7L2733.0,806.4L2734.0,807.3L2735.0,806.5L2736.0,807.6L2737.0,806.1L2738.0,807.7L2739.0,806.3L2740.0,807.8L2741.0,806.6L2742.0,807.9L2743.0,806.0L2744.0,807.9L2745.0,806.3L2746.0,807.6L2747.0,806.6L2748.0,807.5L2749.0,806.4L2750.0,807.8L2751.0,805.9L2752.0,807.7L2753.0,806.1L2754.0,808.1L2755.0,805.9L2756.0,807.5L2757.0,805.6L2758.0,808.1L2759.0,806.2L2760.0,807.8L2761.0,805.7L2762.0,808.5L2763.0,806.1L2764.0,807.9L2765.0,805.9L2766.0,807.7L2767.0,806.1L2768.0,808.4L2769.0,806.0L2770.0,808.3L2771.0,806.3L2772.0,808.3L2773.0,805.8L2774.0,807.7L2775.0,806.1L2776.0,808.0L2777.0,806.1L2778.0,807.9L2779.0,806.4L2780.0,807.9L2781.0,806.3L2782.0,808.0L2783.0,806.3L2784.0,808.1L2785.0,806.2L2786.0,807.5L2787.0,806.3L2788.0,807.5L2789.0,806.1L2790.0,807.4L2791.0,806.3L2792.0,807.5L2793.0,806.2L2794.0,807.4L2795.0,806.3L2796.0,807.7L2797.0,806.6L2798.0,807.4L2799.0,806.5L2800.0,807.6L2801.0,806.6L2802.0,807.3L2803.0,806.5L2804.0,807.6L2805.0,806.7L2806.0,807.7L2807.0,806.5L2808.0,807.3L2809.0,806.7L2810.0,807.4L2811.0,806.6L2812.0,807.3L2813.0,806.8L2814.0,807.4L2815.0,806.7L2816.0,807.4L2817.0,806.6L2818.0,807.5L2819.0,806.6L2820.0,807.3L2821.0,806.7L2822.0,807.5L2823.0,806.8L2824.0,807.2L2825.0,806.8L2826.0,807.5L2827.0,806.6L2828.0,807.5L2829.0,806.6L2830.0,807.3L2831.0,806.7L2832.0,807.4L2833.0,806.7L2834.0,807.5L2835.0,806.7L2836.0,807.2L2837.0,806.7L2838.0,807.4L2839.0,806.8L2840.0,807.5L2841.0,806.5L2842.0,807.3L2843.0,806.5L2844.0,807.4L2845.0,806.7L2846.0,807.2L2847.0,806.5L2848.0,807.5L2849.0,806.7L2850.0,807.3L2851.0,806.8L2852.0,807.3L2853.0,806.6L2854.0,807.3L2855.0,806.8L2856.0,807.3L2857.0,806.6L2858.0,807.2L2859.0,806.8L2860.0,807.3L2861.0,806.8L2862.0,807.4L2863.0,806.8L2864.0,807.4L2865.0,806.7L2866.0,807.2L2867.0,806.9L2868.0,807.2L2869.0,806.8L2870.0,807.3L2871.0,806.7L2872.0,807.3L2873.0,806.8L2874.0,807.3L2875.0,806.7L2876.0,807.2L2877.0,806.9L2878.0,807.2L2879.0,806.8L2880.0,807.2L2881.0,806.8L2882.0,807.1L2883.0,806.7L2884.0,807.2L2885.0,806.7L2886.0,807.2L2887.0,806.9L2888.0,807.2L2889.0,806.8L2890.0,807.2L2891.0,806.8L2892.0,807.2L2893.0,806.9L2894.0,807.1L2895.0,806.9L2896.0,807.2L2897.0,806.8L2898.0,807.1L2899.0,806.9L2900.0,807.1L2901.0,806.9L2902.0,807.1L2903.0,806.9L2904.0,807.1L2905.0,806.9L2906.0,807.1L2907.0,806.9L2908.0,807.1L2909.0,806.9L2910.0,807.1L2911.0,807.0L2912.0,807.0L2913.0,807.0L2914.0,807.0L2915.0,807.0L2916.0,807.0L2917.0,807.0L2918.0,807.0L2919.0,807.0L2920.0,807.0L2921,807.0" fill="none" stroke="#d20000" stroke-width="1.7" stroke-linejoin="round"/>
<line x1="2353" y1="806.9" x2="3346" y2="806.9" stroke="#d20000" stroke-width="2.3" />
<text x="2328" y="617.9" font-size="66.67" text-anchor="end" fill="#262626" >0.1</text>
<text x="2330" y="827.9" font-size="66.67" text-anchor="end" fill="#262626" >0</text>
<text x="2328" y="1037.9" font-size="66.67" text-anchor="end" fill="#262626" >-0.1</text>
<text transform="translate(2196,807.0) rotate(-90)" font-size="66.67" text-anchor="middle" fill="#262626">Acc (g)</text>
<rect x="2864" y="625" width="457" height="79" fill="#fff" stroke="#1a1a1a" stroke-width="2"/>
<line x1="2876.3" y1="664.4" x2="3001.1000000000004" y2="664.4" stroke="#ff0000" stroke-width="6.2" />
<text x="3010" y="684" font-size="60" text-anchor="start" fill="#262626" >NABA - NS</text>
<line x1="2352" y1="1128" x2="2363" y2="1128" stroke="#262626" stroke-width="2" />
<line x1="3336" y1="1128" x2="3347" y2="1128" stroke="#262626" stroke-width="2" />
<line x1="2352" y1="1338.0" x2="2363" y2="1338.0" stroke="#262626" stroke-width="2" />
<line x1="3336" y1="1338.0" x2="3347" y2="1338.0" stroke="#262626" stroke-width="2" />
<line x1="2352" y1="1548" x2="2363" y2="1548" stroke="#262626" stroke-width="2" />
<line x1="3336" y1="1548" x2="3347" y2="1548" stroke="#262626" stroke-width="2" />
<line x1="2736.5" y1="1123" x2="2736.5" y2="1134" stroke="#262626" stroke-width="2" />
<line x1="2736.5" y1="1553" x2="2736.5" y2="1542" stroke="#262626" stroke-width="2" />
<line x1="3121" y1="1123" x2="3121" y2="1134" stroke="#262626" stroke-width="2" />
<line x1="3121" y1="1553" x2="3121" y2="1542" stroke="#262626" stroke-width="2" />
<rect x="2352" y="1123" width="995" height="430" fill="none" stroke="#1a1a1a" stroke-width="2"/>
<path d="M2481,1338.0L2481.0,1336.9L2482.0,1339.4L2483.0,1336.0L2484.0,1339.4L2485.0,1335.6L2486.0,1341.3L2487.0,1334.8L2488.0,1339.6L2489.0,1335.5L2490.0,1340.3L2491.0,1336.0L2492.0,1341.1L2493.0,1335.6L2494.0,1340.3L2495.0,1334.3L2496.0,1341.1L2497.0,1335.8L2498.0,1340.1L2499.0,1335.4L2500.0,1339.5L2501.0,1335.2L2502.0,1341.1L2503.0,1335.7L2504.0,1341.2L2505.0,1334.6L2506.0,1340.5L2507.0,1334.7L2508.0,1340.1L2509.0,1335.8L2510.0,1344.2L2511.0,1334.3L2512.0,1341.3L2513.0,1332.1L2514.0,1343.0L2515.0,1335.6L2516.0,1341.0L2517.0,1335.5L2518.0,1340.6L2519.0,1336.3L2520.0,1341.4L2521.0,1335.3L2522.0,1340.9L2523.0,1335.7L2524.0,1340.0L2525.0,1336.2L2526.0,1342.3L2527.0,1334.1L2528.0,1341.3L2529.0,1336.0L2530.0,1340.0L2531.0,1336.1L2532.0,1340.5L2533.0,1336.3L2534.0,1340.3L2535.0,1335.9L2536.0,1340.0L2537.0,1334.7L2538.0,1340.7L2539.0,1335.3L2540.0,1340.4L2541.0,1335.2L2542.0,1341.4L2543.0,1335.8L2544.0,1339.6L2545.0,1335.3L2546.0,1340.4L2547.0,1334.6L2548.0,1339.7L2549.0,1334.3L2550.0,1339.4L2551.0,1335.2L2552.0,1340.6L2553.0,1335.8L2554.0,1341.7L2555.0,1334.8L2556.0,1339.8L2557.0,1335.4L2558.0,1340.8L2559.0,1336.6L2560.0,1339.5L2561.0,1335.4L2562.0,1340.8L2563.0,1335.9L2564.0,1340.0L2565.0,1335.9L2566.0,1339.6L2567.0,1335.2L2568.0,1340.9L2569.0,1336.0L2570.0,1339.1L2571.0,1336.2L2572.0,1340.6L2573.0,1336.3L2574.0,1339.3L2575.0,1336.6L2576.0,1340.4L2577.0,1335.7L2578.0,1339.6L2579.0,1335.7L2580.0,1340.5L2581.0,1335.1L2582.0,1340.6L2583.0,1336.2L2584.0,1340.5L2585.0,1335.4L2586.0,1340.5L2587.0,1335.8L2588.0,1339.9L2589.0,1336.3L2590.0,1340.2L2591.0,1336.2L2592.0,1339.9L2593.0,1336.9L2594.0,1338.9L2595.0,1336.9L2596.0,1339.5L2597.0,1336.5L2598.0,1338.9L2599.0,1337.1L2600.0,1339.8L2601.0,1337.3L2602.0,1339.7L2603.0,1336.5L2604.0,1339.3L2605.0,1336.3L2606.0,1339.3L2607.0,1337.4L2608.0,1339.6L2609.0,1337.0L2610.0,1339.5L2611.0,1336.6L2612.0,1338.7L2613.0,1337.4L2614.0,1338.6L2615.0,1336.7L2616.0,1339.3L2617.0,1337.3L2618.0,1338.6L2619.0,1337.2L2620.0,1339.2L2621.0,1336.8L2622.0,1339.3L2623.0,1336.7L2624.0,1339.1L2625.0,1336.8L2626.0,1338.5L2627.0,1337.5L2628.0,1339.1L2629.0,1337.1L2630.0,1338.7L2631.0,1337.5L2632.0,1338.7L2633.0,1337.3L2634.0,1338.8L2635.0,1337.3L2636.0,1338.5L2637.0,1337.6L2638.0,1338.5L2639.0,1337.5L2640.0,1338.4L2641.0,1337.4L2642.0,1338.4L2643.0,1337.1L2644.0,1338.7L2645.0,1337.4L2646.0,1338.7L2647.0,1337.5L2648.0,1338.3L2649.0,1337.6L2650.0,1338.5L2651.0,1337.5L2652.0,1338.5L2653.0,1337.5L2654.0,1338.8L2655.0,1337.7L2656.0,1338.5L2657.0,1337.5L2658.0,1338.4L2659.0,1337.3L2660.0,1338.4L2661.0,1337.7L2662.0,1338.4L2663.0,1337.2L2664.0,1338.4L2665.0,1337.7L2666.0,1338.7L2667.0,1337.4L2668.0,1338.7L2669.0,1337.6L2670.0,1338.6L2671.0,1337.7L2672.0,1338.3L2673.0,1337.4L2674.0,1338.5L2675.0,1337.4L2676.0,1338.4L2677.0,1337.4L2678.0,1338.3L2679.0,1337.5L2680.0,1338.3L2681.0,1337.7L2682.0,1338.5L2683.0,1337.6L2684.0,1338.5L2685.0,1337.7L2686.0,1338.5L2687.0,1337.5L2688.0,1338.4L2689.0,1337.7L2690.0,1338.4L2691.0,1337.5L2692.0,1338.4L2693.0,1337.7L2694.0,1338.3L2695.0,1337.8L2696.0,1338.4L2697.0,1337.8L2698.0,1338.2L2699.0,1337.8L2700.0,1338.2L2701.0,1337.8L2702.0,1338.3L2703.0,1337.8L2704.0,1338.2L2705.0,1337.7L2706.0,1338.1L2707.0,1337.9L2708.0,1338.2L2709.0,1337.7L2710.0,1338.3L2711.0,1337.8L2712.0,1338.1L2713.0,1337.7L2714.0,1338.3L2715.0,1337.8L2716.0,1338.2L2717.0,1337.9L2718.0,1338.2L2719.0,1337.8L2720.0,1338.2L2721.0,1337.9L2722.0,1338.1L2723.0,1337.9L2724.0,1338.1L2725.0,1337.9L2726.0,1338.1L2727.0,1337.9L2728.0,1338.1L2729.0,1337.9L2730.0,1338.1L2731.0,1337.9L2732.0,1338.1L2733.0,1338.0L2734.0,1338.1L2735.0,1337.9L2736.0,1338.0L2737.0,1338.0L2738.0,1338.0L2739.0,1338.0L2740.0,1338.0L2741,1338.0" fill="none" stroke="#000000" stroke-width="1.7" stroke-linejoin="round"/>
<line x1="2353" y1="1337.9" x2="3346" y2="1337.9" stroke="#000000" stroke-width="2.3" />
<text x="2328" y="1148.9" font-size="66.67" text-anchor="end" fill="#262626" >0.1</text>
<text x="2330" y="1358.9" font-size="66.67" text-anchor="end" fill="#262626" >0</text>
<text x="2328" y="1568.9" font-size="66.67" text-anchor="end" fill="#262626" >-0.1</text>
<text transform="translate(2196,1338.0) rotate(-90)" font-size="66.67" text-anchor="middle" fill="#262626">Acc (g)</text>
<rect x="2853" y="1156" width="468" height="79" fill="#fff" stroke="#1a1a1a" stroke-width="2"/>
<line x1="2865.3" y1="1195.4" x2="2990.1000000000004" y2="1195.4" stroke="#000000" stroke-width="6.2" />
<text x="2999" y="1215" font-size="60" text-anchor="start" fill="#262626" >NABA - UD</text>
<text x="2352" y="1634" font-size="66.67" text-anchor="middle" fill="#262626" >0</text>
<text x="2736.5" y="1634" font-size="66.67" text-anchor="middle" fill="#262626" >20</text>
<text x="3121" y="1634" font-size="66.67" text-anchor="middle" fill="#262626" >40</text>
<text x="2850" y="1709" font-size="66.67" text-anchor="middle" fill="#262626" >t (s)</text>
<rect x="3544" y="295" width="861" height="1264" fill="none" stroke="#1a1a1a" stroke-width="2"/>
<line x1="3544" y1="1306.2" x2="3557.5" y2="1306.2" stroke="#262626" stroke-width="2" />
<line x1="4391.5" y1="1306.2" x2="4405" y2="1306.2" stroke="#262626" stroke-width="2" />
<line x1="3544" y1="1053.4" x2="3557.5" y2="1053.4" stroke="#262626" stroke-width="2" />
<line x1="4391.5" y1="1053.4" x2="4405" y2="1053.4" stroke="#262626" stroke-width="2" />
<line x1="3544" y1="800.6" x2="3557.5" y2="800.6" stroke="#262626" stroke-width="2" />
<line x1="4391.5" y1="800.6" x2="4405" y2="800.6" stroke="#262626" stroke-width="2" />
<line x1="3544" y1="547.8" x2="3557.5" y2="547.8" stroke="#262626" stroke-width="2" />
<line x1="4391.5" y1="547.8" x2="4405" y2="547.8" stroke="#262626" stroke-width="2" />
<line x1="3835.5" y1="295" x2="3835.5" y2="308.5" stroke="#262626" stroke-width="2" />
<line x1="3835.5" y1="1559" x2="3835.5" y2="1545.5" stroke="#262626" stroke-width="2" />
<line x1="4127.5" y1="295" x2="4127.5" y2="308.5" stroke="#262626" stroke-width="2" />
<line x1="4127.5" y1="1559" x2="4127.5" y2="1545.5" stroke="#262626" stroke-width="2" />
<clipPath id="cr"><rect x="3544" y="295" width="861" height="1265"/></clipPath>
<g clip-path="url(#cr)" fill="none" stroke-linejoin="round" stroke-linecap="butt">
<polyline points="3544.0,1557.5 3740.0,1557.5 3747.1,1556.7 3749.9,1554.8 3753.6,1545.6 3757.3,1532.7 3761.0,1517.9 3763.8,1506.8 3768.0,1497.5 3770.2,1480.9 3772.1,1462.4 3773.9,1443.9 3775.8,1425.5 3777.6,1407.0 3778.6,1388.5 3779.1,1370.0 3779.9,1324.7 3781.1,1287.2 3783.6,1249.8 3785.4,1199.9 3786.9,1149.9 3787.9,1100.0 3788.6,1079.6 3788.6,1047.2 3791.1,1024.7 3794.9,999.7 3797.4,979.8 3798.6,944.8 3802.3,917.4 3806.1,892.4 3811.1,867.4 3812.8,845.0 3816.1,830.0 3817.8,809.6 3819.3,784.7 3822.3,759.7 3826.1,734.7 3827.8,714.8 3831.1,689.8 3834.8,667.3 3836.0,647.4 3836.8,622.4 3839.8,609.9 3846.0,594.9 3851.0,575.0 3853.5,560.0 3860.0,542.1 3865.0,524.6 3867.5,514.7 3872.5,507.2 3881.2,499.7 3886.2,484.7 3888.7,464.7 3896.2,452.3 3904.9,439.8 3919.9,429.8 3927.4,414.8 3933.6,402.3 3936.1,387.4 3954.8,381.1 3969.8,369.9 3987.3,359.9 3999.8,352.4 4014.7,346.2 4034.7,339.4 4057.2,332.9 4089.6,326.9 4096.0,326.9 4133.5,321.9 4171.0,317.8 4208.5,313.5 4223.5,311.0 4271.0,308.2 4321.0,306.8 4371.0,305.5 4406.0,304.6" stroke="#0000ff" stroke-width="6.0"/>
<polyline points="3544.0,1557.5 3735.0,1557.5 3741.6,1557.6 3748.1,1553.0 3755.5,1543.8 3763.8,1536.4 3768.4,1527.1 3773.9,1517.9 3777.6,1512.3 3779.5,1490.1 3780.4,1462.4 3781.3,1443.9 3783.2,1425.5 3786.0,1407.0 3787.8,1388.5 3789.6,1370.0 3789.9,1349.6 3791.1,1319.7 3796.1,1299.7 3797.4,1269.7 3801.1,1249.8 3801.8,1224.8 3802.3,1179.9 3806.1,1162.4 3808.6,1142.4 3814.3,1125.0 3814.8,1100.0 3817.8,1072.1 3818.6,1047.2 3821.1,1024.7 3823.6,999.7 3824.3,969.8 3828.6,959.8 3828.6,942.3 3831.1,922.4 3833.5,892.4 3836.0,855.0 3839.8,830.0 3842.3,817.1 3844.8,802.1 3849.8,784.7 3852.3,767.2 3856.0,747.2 3861.0,732.2 3866.0,719.8 3872.2,709.8 3873.5,689.8 3881.7,677.3 3884.7,659.9 3892.2,644.9 3897.2,632.4 3899.7,609.9 3907.2,599.9 3908.4,585.0 3914.7,570.0 3915.9,560.0 3924.9,547.1 3933.6,527.1 3939.9,513.4 3947.3,504.7 3959.8,498.4 3968.6,492.2 3973.5,481.0 3982.3,473.5 3986.0,462.2 3992.3,449.8 3997.3,443.5 4009.7,434.8 4019.7,431.0 4024.7,422.3 4032.2,414.8 4047.2,408.6 4068.4,401.8 4072.2,393.6 4092.1,389.4 4096.0,388.8 4112.2,386.2 4118.5,382.5 4127.2,375.0 4139.8,371.2 4156.0,368.1 4162.2,363.8 4167.2,356.2 4173.5,352.5 4181.0,348.8 4188.5,342.5 4202.2,340.0 4221.0,338.1 4246.0,335.0 4254.8,330.0 4271.0,327.5 4294.8,325.0 4308.5,321.9 4321.0,320.0 4333.5,317.5 4358.5,315.8 4383.5,314.1 4406.0,313.4" stroke="#ff0000" stroke-width="6.0"/>
<polyline points="3544.0,1557.5 3700.0,1557.2 3729.6,1556.7 3739.7,1554.8 3744.4,1551.1 3746.2,1543.8 3747.7,1529.0 3749.5,1510.5 3753.6,1499.4 3759.1,1493.8 3761.0,1473.5 3761.9,1455.0 3763.8,1440.2 3768.4,1423.6 3773.0,1407.0 3777.6,1388.5 3780.4,1370.0 3783.6,1337.1 3786.1,1312.2 3786.1,1274.7 3787.4,1224.8 3791.1,1187.4 3793.6,1149.9 3796.1,1125.0 3797.4,1100.0 3798.6,1067.1 3799.9,1042.2 3806.1,1017.2 3809.8,992.3 3811.1,962.3 3814.8,934.8 3817.8,904.9 3819.8,867.4 3823.6,850.0 3824.8,830.0 3824.8,809.6 3826.1,784.7 3828.6,759.7 3831.1,734.7 3834.8,724.8 3836.0,712.3 3839.8,707.3 3843.5,689.8 3847.3,667.3 3848.5,647.4 3849.8,622.4 3852.3,599.9 3856.0,585.0 3862.3,570.0 3863.5,560.0 3870.0,549.6 3872.5,524.6 3879.9,512.2 3884.9,504.7 3892.4,497.2 3894.9,482.2 3897.9,459.7 3898.7,447.3 3904.9,439.8 3908.6,427.3 3914.9,417.3 3922.4,407.3 3929.9,397.3 3939.9,388.6 3949.8,379.9 3962.3,374.4 3968.6,371.1 3969.8,362.4 3982.3,355.4 3999.8,349.4 4012.2,342.9 4034.7,336.2 4057.2,329.4 4089.6,323.7 4096.0,323.8 4114.8,320.6 4133.5,318.1 4156.0,316.2 4181.0,314.4 4208.5,313.1 4233.5,312.2 4271.0,311.2 4308.5,310.5 4346.0,309.6 4383.5,308.6 4406.0,308.1" stroke="#000000" stroke-width="6.0"/>
</g>
<text x="3522" y="1580.8" font-size="66.67" text-anchor="end" fill="#262626" >0</text>
<text x="3522" y="1328.0" font-size="66.67" text-anchor="end" fill="#262626" >0.2</text>
<text x="3522" y="1075.2" font-size="66.67" text-anchor="end" fill="#262626" >0.4</text>
<text x="3522" y="822.4" font-size="66.67" text-anchor="end" fill="#262626" >0.6</text>
<text x="3522" y="569.6" font-size="66.67" text-anchor="end" fill="#262626" >0.8</text>
<text x="3522" y="316.8" font-size="66.67" text-anchor="end" fill="#262626" >1</text>
<text x="3544" y="1638" font-size="66.67" text-anchor="middle" fill="#262626" >0</text>
<text x="3835.5" y="1638" font-size="66.67" text-anchor="middle" fill="#262626" >10</text>
<text x="4127.5" y="1638" font-size="66.67" text-anchor="middle" fill="#262626" >20</text>
<text x="3975" y="1714" font-size="66.67" text-anchor="middle" fill="#262626" >t (s)</text>
<text transform="translate(3410.5,926.5) rotate(-90)" font-size="66.67" text-anchor="middle" fill="#262626">Husid Plot</text>
<rect x="3678" y="73" width="593" height="213" fill="#fff" stroke="#1a1a1a" stroke-width="2"/>
<line x1="3690.4" y1="111.8" x2="3815.3" y2="111.8" stroke="#0000ff" stroke-width="6.0" />
<text x="3824.4" y="130.7" font-size="60" text-anchor="start" fill="#262626" >DS(5-95)= 7.75s</text>
<line x1="3690.4" y1="179.3" x2="3815.3" y2="179.3" stroke="#ff0000" stroke-width="6.0" />
<text x="3824.4" y="198.2" font-size="60" text-anchor="start" fill="#262626" >DS(5-95)= 13.29s</text>
<line x1="3690.4" y1="246.8" x2="3815.3" y2="246.8" stroke="#000000" stroke-width="6.0" />
<text x="3824.4" y="265.7" font-size="60" text-anchor="start" fill="#262626" >DS(5-95)= 7.56s</text>
</svg>
</body></html>
